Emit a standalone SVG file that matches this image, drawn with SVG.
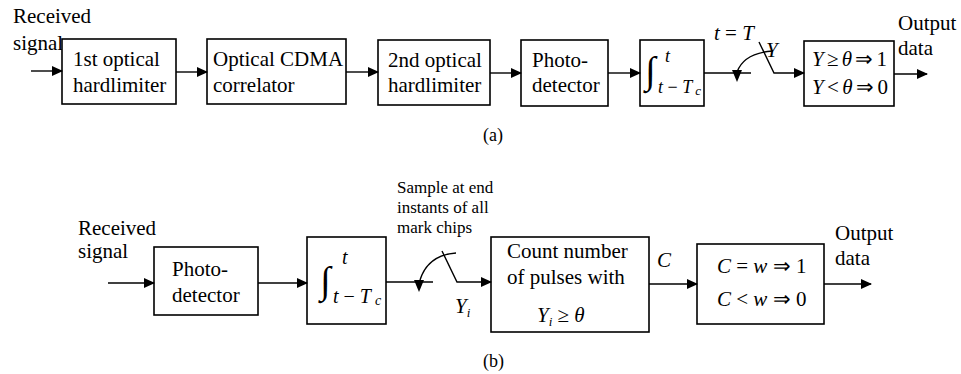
<svg xmlns="http://www.w3.org/2000/svg" width="961" height="374" viewBox="0 0 961 374">
  <defs>
    <marker id="arrow" markerUnits="userSpaceOnUse" markerWidth="11" markerHeight="10" refX="10" refY="5" orient="auto">
      <path d="M0,0 L11,5 L0,10 Z" fill="#000"/>
    </marker>
    <style>
      .box { fill: #fff; stroke: #000; stroke-width: 1.6; }
      .wire { fill: none; stroke: #000; stroke-width: 1.4; }
      .arr { marker-end: url(#arrow); }
      text { font-family: "Liberation Serif", "Times New Roman", serif; fill: #000; }
      .lbl { font-size: 21px; }
      .small { font-size: 17px; }
      .cap { font-size: 18px; }
      .it { font-style: italic; }
      .int { font-size: 38px; }
    </style>
  </defs>

  <rect width="961" height="374" fill="#fff"/>

  <!-- (a) hard-limited receiver chain -->
  <text class="lbl" x="13" y="23">Received</text>
  <text class="lbl" x="13" y="50">signal</text>

  <g id="a-limiter1">
    <rect class="box" x="62" y="39" width="114" height="65"/>
    <text class="lbl" x="73" y="66">1st optical</text>
    <text class="lbl" x="73" y="92">hardlimiter</text>
  </g>
  <g id="a-correlator">
    <rect class="box" x="207" y="39" width="139" height="65"/>
    <text class="lbl" x="213" y="66">Optical CDMA</text>
    <text class="lbl" x="213" y="92">correlator</text>
  </g>
  <g id="a-limiter2">
    <rect class="box" x="378" y="40" width="112" height="65"/>
    <text class="lbl" x="388" y="67">2nd optical</text>
    <text class="lbl" x="388" y="92">hardlimiter</text>
  </g>
  <g id="a-photodetector">
    <rect class="box" x="521" y="40" width="87" height="66"/>
    <text class="lbl" x="532" y="67">Photo-</text>
    <text class="lbl" x="532" y="92">detector</text>
  </g>
  <g id="a-integrator">
    <rect class="box" x="640" y="40" width="64" height="66"/>
    <text class="int" x="645" y="83">∫</text>
    <text class="it" font-size="18" x="665" y="62">t</text>
    <text font-size="18" x="658" y="93"><tspan class="it">t</tspan> − <tspan class="it">T</tspan><tspan class="it" font-size="13" dx="3" dy="2">c</tspan></text>
  </g>
  <g id="a-decision">
    <rect class="box" x="804" y="41" width="90" height="65"/>
    <text class="lbl" x="812" y="66" textLength="75" lengthAdjust="spacing"><tspan class="it">Y</tspan> ≥ <tspan class="it">θ</tspan> ⇒ 1</text>
    <text class="lbl" x="812" y="94" textLength="76" lengthAdjust="spacing"><tspan class="it">Y</tspan> &lt; <tspan class="it">θ</tspan> ⇒ 0</text>
  </g>

  <text class="lbl" x="898" y="30">Output</text>
  <text class="lbl" x="898" y="55">data</text>
  <text class="lbl it" x="714" y="40">t <tspan font-style="normal">=</tspan> T</text>
  <text class="lbl it" x="766" y="57">Y</text>
  <text class="cap" x="483" y="141">(a)</text>

  <!-- (b) chip-level receiver chain -->
  <text class="lbl" x="78" y="235">Received</text>
  <text class="lbl" x="78" y="258">signal</text>

  <g id="b-photodetector">
    <rect class="box" x="154" y="247" width="104" height="68"/>
    <text class="lbl" x="172" y="276">Photo-</text>
    <text class="lbl" x="172" y="302">detector</text>
  </g>
  <g id="b-integrator">
    <rect class="box" x="307" y="237" width="79" height="87"/>
    <text class="int" x="320" y="293">∫</text>
    <text class="it" font-size="20" x="342" y="264">t</text>
    <text font-size="20" x="333" y="303"><tspan class="it">t</tspan> − <tspan class="it">T</tspan><tspan class="it" font-size="14" dx="4" dy="2">c</tspan></text>
  </g>
  <g id="b-counter">
    <rect class="box" x="491" y="237" width="158" height="95"/>
    <text class="lbl" x="507" y="258">Count number</text>
    <text class="lbl" x="507" y="284">of pulses with</text>
    <text class="lbl" x="537" y="322"><tspan class="it">Y</tspan><tspan class="it" font-size="13" dy="4">i</tspan><tspan dy="-4"> ≥ </tspan><tspan class="it">θ</tspan></text>
  </g>
  <g id="b-decision">
    <rect class="box" x="697" y="244" width="127" height="80"/>
    <text class="lbl" x="717" y="273"><tspan class="it">C</tspan> = <tspan class="it">w</tspan> ⇒ 1</text>
    <text class="lbl" x="717" y="306"><tspan class="it">C</tspan> &lt; <tspan class="it">w</tspan> ⇒ 0</text>
  </g>

  <text class="small" x="397" y="193">Sample at end</text>
  <text class="small" x="397" y="213">instants of all</text>
  <text class="small" x="397" y="233">mark chips</text>
  <text class="lbl it" x="455" y="313">Y<tspan font-size="13" dy="4">i</tspan></text>
  <text class="lbl it" x="657" y="267">C</text>
  <text class="lbl" x="835" y="240">Output</text>
  <text class="lbl" x="835" y="265">data</text>
  <text class="cap" x="483" y="367">(b)</text>

  <g id="connectors">
    <!-- (a) -->
    <line class="wire arr" x1="31" y1="71" x2="62" y2="71"/>
    <line class="wire arr" x1="176" y1="72" x2="207" y2="72"/>
    <line class="wire arr" x1="346" y1="72" x2="378" y2="72"/>
    <line class="wire arr" x1="490" y1="73" x2="521" y2="73"/>
    <line class="wire arr" x1="608" y1="73" x2="640" y2="73"/>
    <line class="wire" x1="704" y1="73" x2="751" y2="73"/>
    <path class="wire" d="M773,51 Q744,53 737,72"/>
    <polygon points="732,70 742,70 737,82" fill="#000"/>
    <polyline class="wire arr" points="759,42 774,73 804,73"/>
    <line class="wire arr" x1="894" y1="74" x2="927" y2="74"/>
    <!-- (b) -->
    <line class="wire arr" x1="108" y1="283" x2="154" y2="283"/>
    <line class="wire arr" x1="258" y1="283" x2="307" y2="283"/>
    <line class="wire" x1="386" y1="282" x2="433" y2="282"/>
    <path class="wire" d="M456,253 Q428,255 420,280"/>
    <polygon points="414,280 424,280 419,292" fill="#000"/>
    <polyline class="wire arr" points="442,251 457,282 491,282"/>
    <line class="wire arr" x1="649" y1="284" x2="697" y2="284"/>
    <line class="wire arr" x1="824" y1="284" x2="871" y2="284"/>
  </g>
</svg>
